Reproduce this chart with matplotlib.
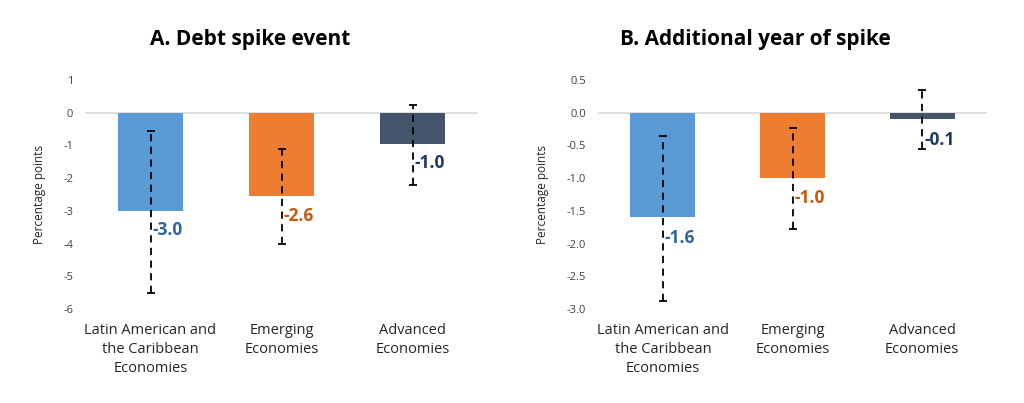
import matplotlib
matplotlib.use("Agg")
import matplotlib.pyplot as plt
import numpy as np

plt.rcParams['font.family'] = ['Open Sans', 'DejaVu Sans']

categories = ["Latin American and\nthe Caribbean\nEconomies", "Emerging\nEconomies", "Advanced\nEconomies"]
bar_colors = ["#5B9BD5", "#ED7D31", "#44546A"]
label_colors = ["#2E6699", "#C55A11", "#1F3864"]

# Panel A
a_title = "A. Debt spike event"
a_values = [-3.0, -2.55, -0.95]
a_labels = ["-3.0", "-2.6", "-1.0"]
a_err_high = [-0.55, -1.1, 0.25]
a_err_low = [-5.5, -4.0, -2.2]
a_label_y = [-3.6, -3.15, -1.55]
a_ticks = [1, 0, -1, -2, -3, -4, -5, -6]
a_ticklabels = ["1", "0", "-1", "-2", "-3", "-4", "-5", "-6"]

# Panel B
b_title = "B. Additional year of spike"
b_values = [-1.6, -1.0, -0.09]
b_labels = ["-1.6", "-1.0", "-0.1"]
b_err_high = [-0.35, -0.23, 0.35]
b_err_low = [-2.88, -1.78, -0.55]
b_label_y = [-1.91, -1.3, -0.41]
b_ticks = [0.5, 0.0, -0.5, -1.0, -1.5, -2.0, -2.5, -3.0]
b_ticklabels = ["0.5", "0.0", "-0.5", "-1.0", "-1.5", "-2.0", "-2.5", "-3.0"]

fig = plt.figure(figsize=(10.24, 4.03), dpi=100)
axA = fig.add_axes([85/1024, 1-309/403, (478-85)/1024, (309-80)/403])
axB = fig.add_axes([598/1024, 1-309/403, (987-598)/1024, (309-80)/403])

def draw(ax, title, title_x, values, labels, hi, lo, ly, ticks, ticklabels, ylim):
    x = np.arange(len(values))
    ax.bar(x, values, width=0.5, color=bar_colors, zorder=2)
    ax.axhline(0, color="#D9D9D9", lw=1.2, zorder=1)
    vals = np.array(values)
    yerr = np.array([vals - np.array(lo), np.array(hi) - vals])
    eb = ax.errorbar(x, vals, yerr=yerr, fmt='none', ecolor='black', elinewidth=1.3,
                     capsize=3, capthick=1.3, zorder=3)
    for lc in eb[2]:
        lc.set_linestyle((0, (4, 3)))
    for i in range(len(values)):
        ax.text(x[i] + 0.015, ly[i], labels[i], color=label_colors[i], fontsize=12.5,
                fontweight='bold', ha='left', va='center', zorder=4)
    ax.set_xlim(-0.5, 2.5)
    ax.set_ylim(*ylim)
    ax.set_yticks(ticks)
    ax.set_yticklabels(ticklabels)
    ax.set_xticks(x)
    ax.set_xticklabels(categories, fontsize=10.5, color="#262626", linespacing=1.35, va='top')
    ax.tick_params(axis='y', length=0, pad=8.6, labelsize=8, labelcolor="#404040")
    ax.tick_params(axis='x', length=0, pad=10)
    for s in ax.spines.values():
        s.set_visible(False)
    ax.set_ylabel("Percentage points", fontsize=8.5, color="#262626", labelpad=12.5)
    fig.text(title_x, 1 - 40/403, title, fontsize=15, fontweight='bold', color="black",
             ha='center', va='center')

draw(axA, a_title, 250/1024, a_values, a_labels, a_err_high, a_err_low, a_label_y, a_ticks, a_ticklabels, (-6, 1))
draw(axB, b_title, 755/1024, b_values, b_labels, b_err_high, b_err_low, b_label_y, b_ticks, b_ticklabels, (-3.0, 0.5))

fig.savefig("out.png", dpi=100, facecolor="white")
